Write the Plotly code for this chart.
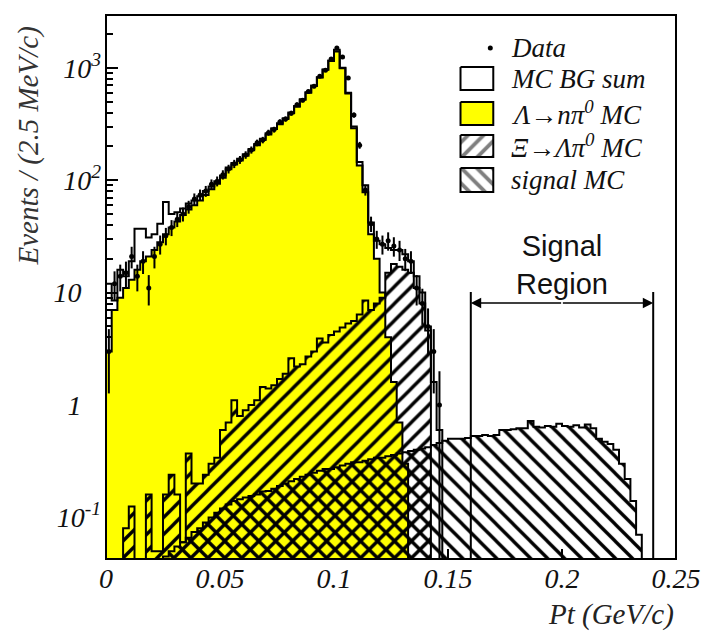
import math
import plotly.graph_objects as go

N = None
# ---- data: 100 bins of 2.5 MeV/c from 0 to 0.25 GeV/c ----
bin_width = 0.0025
n_bins = 100

lam_mc = [3, 7, 9, 11, 13, 16, 19, 21, 24, 28,
          33, 38, 43, 49, 55, 60, 66, 74, 83, 93,
          105, 125, 138, 150, 165, 185, 205, 228, 255, 285,
          315, 350, 395, 450, 520, 600, 690, 820, 960, 1150,
          1400, 990, 590, 290, 135, 78, 33, 20, 10, 4,
          1.6, 0.7, 0.3] + [N] * 47

xi_mc = [N, N, N, 0.08, 0.125, N, N, 0.16, 0.05, 0.05,
         0.16, 0.24, 0.16, 0.06, 0.37, 0.2, 0.2, 0.24, 0.3, 0.34,
         0.6, 0.7, 1.1, 0.8, 0.9, 1.0, 1.1, 1.45, 1.4, 1.5,
         1.7, 1.9, 2.6, 2.2, 2.3, 2.7, 3.0, 3.9, 3.6, 4.2,
         4.5, 4.9, 5.3, 5.6, 6.4, 8.5, 7.0, 8.0, 9.0, 15,
         18, 17, 16, 15, 11, 8, 4.6] + [N] * 43

signal_mc = [N, N, N, N, N, N, N, N, N, 0.042,
             0.045, 0.05, 0.055, 0.06, 0.066, 0.074, 0.08, 0.09, 0.1, 0.11,
             0.12, 0.13, 0.14, 0.145, 0.15, 0.155, 0.16, 0.17, 0.172, 0.18,
             0.19, 0.2, 0.21, 0.22, 0.23, 0.24, 0.25, 0.26, 0.27, 0.27,
             0.28, 0.29, 0.3, 0.31, 0.31, 0.32, 0.33, 0.34, 0.34, 0.35,
             0.36, 0.37, 0.38, 0.39, 0.4, 0.41, 0.42, 0.44, 0.46, 0.48,
             0.5, 0.5, 0.5, 0.51, 0.53, 0.53, 0.54, 0.53, 0.54, 0.6,
             0.6, 0.61, 0.62, 0.62, 0.72, 0.64, 0.63, 0.65, 0.64, 0.68,
             0.65, 0.64, 0.66, 0.63, 0.67, 0.62, 0.5, 0.47, 0.45, 0.4,
             0.3, 0.22, 0.14, 0.07, N, N, N, N, N, N]

bg_sum = [12, 8.5, 16, 14, 19, 37, 37, 31, 33, 41,
          64, 50, 52, 56, 62, 66, 72, 80, 88, 98,
          110, 130, 142, 155, 170, 190, 210, 234, 262, 290,
          322, 356, 400, 458, 525, 606, 695, 826, 966, 1160,
          1450, 1000, 600, 300, 145, 90, 42, 29, 27, 25,
          24, 24, 22, 19, 14, 10, 5, 1.6, 0.6] + [N] * 41

data_counts = [3, 12, 14, 15, 21, 14, 19, 11, 21, 27,
               32, 38, 45, 50, 58, 68, 74, 80, 92, 98,
               112, 126, 140, 152, 168, 186, 215, 228, 265, 282,
               330, 350, 395, 470, 515, 615, 685, 840, 950, 1200,
               1500, 1250, 810, 380, 205, 82, 41, 30, 27, 29,
               26, 24, 20, 19, 11, 8, 5, 3, 1] + [N] * 41

x_tickvals = [0, 0.05, 0.1, 0.15, 0.2, 0.25]
x_ticktext = ["0", "0.05", "0.1", "0.15", "0.2", "0.25"]
y_tickvals = [0.1, 1, 10, 100, 1000]
y_ticktext = ["10<sup>-1</sup>", "1<sup>\u2002\u2002</sup>", "10<sup>\u2002\u2002</sup>",
              "10<sup>2</sup>", "10<sup>3</sup>"]
signal_region = [0.16, 0.24]

# ---- derived ----
edges = [i * bin_width for i in range(n_bins + 1)]
centers = [(i + 0.5) * bin_width for i in range(n_bins)]


def step_xy(vals, low=1e-4):
    xs = [edges[0]]
    ys = [low]
    for i, v in enumerate(vals):
        xs.append(edges[i])
        ys.append(v if v is not None else low)
    xs.append(edges[-1])
    ys.append(low)
    return xs, ys


SERIF = "Liberation Serif"
fig = go.Figure()

# yellow Lambda -> n pi0
fig.add_trace(go.Bar(x=centers, y=lam_mc, width=bin_width,
                     marker=dict(color="#ffff00", line=dict(width=0))))
# Xi -> Lambda pi0  ("/" hatch)
fig.add_trace(go.Bar(x=centers, y=xi_mc, width=bin_width,
                     marker=dict(color="black", line=dict(width=0),
                                 pattern=dict(shape="/", fgcolor="black",
                                              bgcolor="rgba(0,0,0,0)",
                                              fillmode="replace", size=12,
                                              solidity=0.28))))
# signal MC ("\" hatch)
fig.add_trace(go.Bar(x=centers, y=signal_mc, width=bin_width,
                     marker=dict(color="black", line=dict(width=0),
                                 pattern=dict(shape="\\", fgcolor="black",
                                              bgcolor="rgba(0,0,0,0)",
                                              fillmode="replace", size=12,
                                              solidity=0.28))))

# outlines
for vals in (bg_sum, lam_mc, xi_mc, signal_mc):
    sx, sy = step_xy(vals)
    fig.add_trace(go.Scatter(x=sx, y=sy, mode="lines", line_shape="hv",
                             line=dict(color="black", width=2),
                             hoverinfo="skip"))

# data with Poisson errors
dx = [c for c, d in zip(centers, data_counts) if d is not None]
dy = [d for d in data_counts if d is not None]
derr = [math.sqrt(d) for d in dy]
fig.add_trace(go.Scatter(x=dx, y=dy, mode="markers",
                         marker=dict(color="black", size=5),
                         error_y=dict(type="data", array=derr, color="black",
                                      thickness=2, width=0)))

# ---- legend (drawn on an overlay axis in plot-fraction units) ----
L, R, T, B = 106, 680, 15, 559


def fx(px):
    return (px - L) / (R - L)


def fy(py):
    return (B - py) / (B - T)


def box(x0, x1, y0, y1):
    return ([fx(x0), fx(x1), fx(x1), fx(x0), fx(x0)],
            [fy(y0), fy(y0), fy(y1), fy(y1), fy(y0)])


bx, by = box(463, 496, 67, 90)
fig.add_trace(go.Scatter(x=bx, y=by, xaxis="x2", yaxis="y2", mode="lines",
                         fill="toself", fillcolor="white",
                         line=dict(color="black", width=2), hoverinfo="skip"))
bx, by = box(463, 496, 102, 125)
fig.add_trace(go.Scatter(x=bx, y=by, xaxis="x2", yaxis="y2", mode="lines",
                         fill="toself", fillcolor="#ffff00",
                         line=dict(color="black", width=2), hoverinfo="skip"))
bx, by = box(463, 496, 135, 157)
fig.add_trace(go.Scatter(x=bx, y=by, xaxis="x2", yaxis="y2", mode="lines",
                         fill="toself", fillcolor="white",
                         fillpattern=dict(shape="/", fgcolor="black", bgcolor="white",
                                          size=11, solidity=0.35),
                         line=dict(color="black", width=2), hoverinfo="skip"))
bx, by = box(463, 496, 168, 192)
fig.add_trace(go.Scatter(x=bx, y=by, xaxis="x2", yaxis="y2", mode="lines",
                         fill="toself", fillcolor="white",
                         fillpattern=dict(shape="\\", fgcolor="black", bgcolor="white",
                                          size=11, solidity=0.35),
                         line=dict(color="black", width=2), hoverinfo="skip"))
fig.add_trace(go.Scatter(x=[fx(493)], y=[fy(48)], xaxis="x2", yaxis="y2",
                         mode="markers", marker=dict(color="black", size=5),
                         hoverinfo="skip"))

legend_labels = ["Data", "MC BG sum", "\u039b\u2192n\u03c0<sup>0</sup> MC",
                 "\u039e\u2192\u039b\u03c0<sup>0</sup> MC", "signal MC"]
legend_y = [48, 79, 113, 146, 180]
annotations = []
for lab, ly in zip(legend_labels, legend_y):
    annotations.append(dict(xref="paper", yref="paper", x=fx(512), y=fy(ly),
                            xanchor="left", yanchor="middle", showarrow=False,
                            text="<i>" + lab + "</i>",
                            font=dict(family=SERIF, size=27, color="#111")))

# axis titles
annotations.append(dict(xref="paper", yref="paper", x=fx(27), y=fy(146),
                        textangle=-90, showarrow=False, xanchor="center",
                        yanchor="middle", text="<i>Events / (2.5 MeV/c)</i>",
                        font=dict(family=SERIF, size=29, color="#333")))
annotations.append(dict(xref="paper", yref="paper", x=1.0, y=fy(614),
                        showarrow=False, xanchor="right", yanchor="middle",
                        text="<i>Pt (GeV/c)</i>",
                        font=dict(family=SERIF, size=29, color="#222")))

# signal region label and arrows
annotations.append(dict(xref="x", yref="paper", x=sum(signal_region) / 2,
                        y=fy(265), showarrow=False, xanchor="center",
                        yanchor="middle", text="Signal<br>Region",
                        font=dict(family="Liberation Sans", size=29, color="#111")))
mid_px = (R - L) * (signal_region[1] - signal_region[0]) / 0.25 / 2
annotations.append(dict(xref="x", yref="paper", x=signal_region[0], y=fy(303),
                        ax=mid_px, ay=0, text="", showarrow=True,
                        arrowhead=2, arrowsize=1.3, arrowwidth=1.6,
                        arrowcolor="black", standoff=0))
annotations.append(dict(xref="x", yref="paper", x=signal_region[1], y=fy(303),
                        ax=-mid_px, ay=0, text="", showarrow=True,
                        arrowhead=2, arrowsize=1.3, arrowwidth=1.6,
                        arrowcolor="black", standoff=0))

shapes = []
for xv in signal_region:
    shapes.append(dict(type="line", xref="x", yref="paper", x0=xv, x1=xv,
                       y0=0, y1=fy(292), line=dict(color="black", width=2),
                       layer="above"))
shapes.append(dict(type="rect", xref="paper", yref="paper", x0=0, x1=1,
                   y0=0, y1=1, line=dict(color="black", width=2),
                   layer="above"))

minor_y = []
for dec in [0.01, 0.1, 1, 10, 100, 1000]:
    for k in range(2, 10):
        minor_y.append(k * dec)

fig.update_layout(
    width=713, height=631,
    margin=dict(l=L, r=713 - R, t=T, b=631 - B),
    paper_bgcolor="white", plot_bgcolor="white",
    showlegend=False, barmode="overlay", bargap=0,
    xaxis=dict(range=[0, 0.25], tickvals=x_tickvals,
               ticktext=["<i>" + t + "</i>" for t in x_ticktext],
               ticks="inside", ticklen=10, tickwidth=1.5, tickcolor="black",
               showgrid=False, zeroline=False, showline=False,
               layer="below traces",
               tickfont=dict(family=SERIF, size=28, color="#111")),
    yaxis=dict(type="log", range=[-1.37, 3.47], tickvals=y_tickvals,
               ticktext=["<i>" + t + "</i>" for t in y_ticktext],
               ticks="inside", ticklen=12, tickwidth=2, tickcolor="black",
               minor=dict(tickvals=minor_y, ticks="inside", ticklen=7,
                          tickwidth=1.5, tickcolor="black", showgrid=False),
               showgrid=False, zeroline=False, showline=False,
               layer="below traces", ticklabelstandoff=4,
               tickfont=dict(family=SERIF, size=28, color="#111")),
    xaxis2=dict(overlaying="x", range=[0, 1], visible=False, fixedrange=True),
    yaxis2=dict(overlaying="y", range=[0, 1], visible=False, fixedrange=True),
    annotations=annotations,
    shapes=shapes,
)

fig.write_html("out.html")
